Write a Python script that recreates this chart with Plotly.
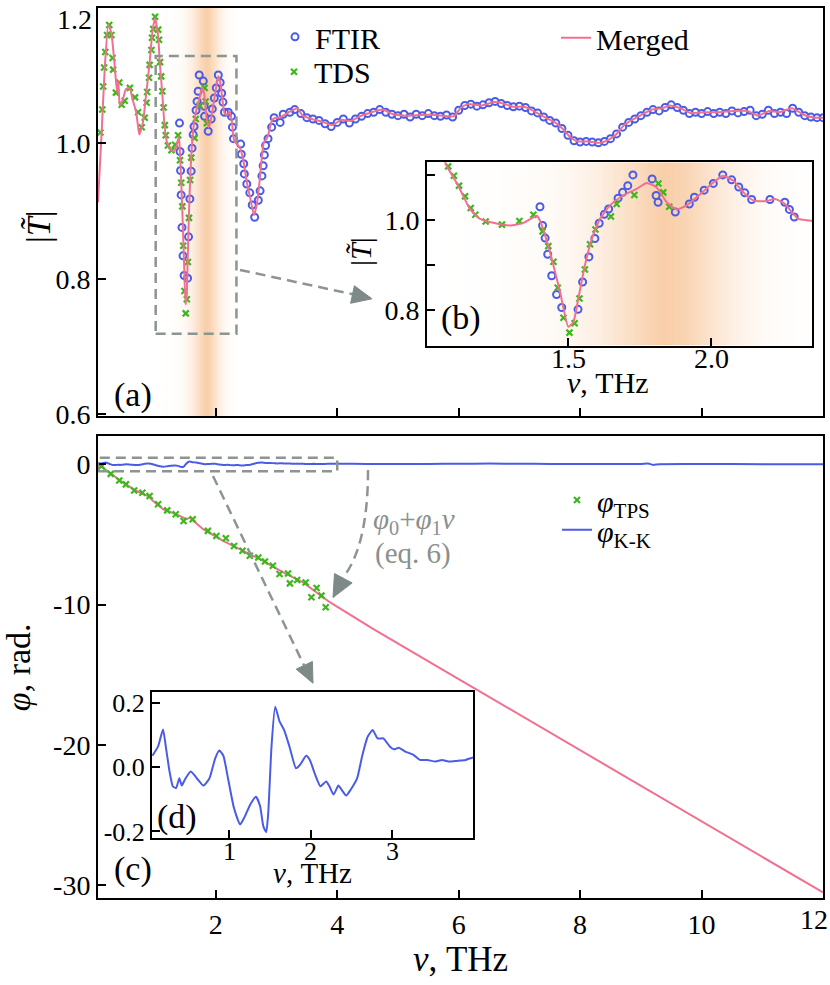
import plotly.graph_objects as go

W, H = 830, 985          # reference picture size (all positions below are given in it)
H_FIG = 998              # drawn height (the capture squeezes the page slightly in height)
FONT = "Liberation Serif"

# ---------------- panel (a): amplitude |T| ----------------
merged_nu = [0.06, 0.09, 0.12, 0.17, 0.23, 0.28, 0.34, 0.375, 0.395, 0.42, 0.47, 0.52, 0.58, 0.63, 0.69,
             0.74, 0.80, 0.85, 0.91, 0.96, 1.00, 1.05, 1.076, 1.116, 1.157, 1.192, 1.239, 1.297, 1.344,
             1.391, 1.402, 1.42, 1.443, 1.472, 1.501, 1.519, 1.536, 1.559, 1.583, 1.612, 1.647, 1.693,
             1.740, 1.775, 1.810, 1.845, 1.880, 1.915, 1.962, 2.008, 2.041, 2.078, 2.113, 2.148, 2.189,
             2.224, 2.259, 2.282, 2.305, 2.346, 2.40, 2.46, 2.51, 2.57, 2.63, 2.69, 2.75, 2.79, 2.85,
             2.93, 2.99, 3.05, 3.20, 3.345, 3.43, 3.58, 3.755, 3.92, 4.07, 4.22, 4.37, 4.57, 4.745,
             4.92, 5.155, 5.39, 5.62, 5.915, 6.03, 6.15, 6.38, 6.585, 6.73, 6.905, 7.08, 7.255, 7.43,
             7.605, 7.72, 7.84, 7.96, 8.13, 8.335, 8.48, 8.60, 8.715, 8.86, 9.01, 9.18, 9.36, 9.47,
             9.65, 9.82, 10.06, 10.29, 10.525, 10.76, 10.93, 11.11, 11.28, 11.49, 11.69, 11.87, 12.0]
merged_T = [0.913, 0.965, 1.016, 1.109, 1.175, 1.163, 1.109, 1.075, 1.092, 1.056, 1.065, 1.080, 1.082, 1.065, 1.046,
            1.013, 1.031, 1.070, 1.119, 1.168, 1.185, 1.159, 1.121, 1.077, 1.025, 1.003, 0.994, 0.988, 0.994,
            1.010, 0.999, 0.966, 0.914, 0.840, 0.762, 0.773, 0.825, 0.899, 0.958, 1.003, 1.033, 1.055,
            1.070, 1.083, 1.073, 1.040, 1.024, 1.033, 1.058, 1.084, 1.099, 1.088, 1.062, 1.044, 1.042,
            1.047, 1.036, 1.018, 1.003, 0.999, 0.993, 0.972, 0.943, 0.918, 0.894, 0.918, 0.972, 1.001, 1.009,
            1.035, 1.038, 1.038, 1.046, 1.052, 1.041, 1.036, 1.032, 1.027, 1.035, 1.033, 1.040, 1.046, 1.050,
            1.043, 1.041, 1.042, 1.042, 1.040, 1.052, 1.058, 1.056, 1.061, 1.059, 1.054, 1.054, 1.047, 1.038,
            1.030, 1.021, 1.009, 1.003, 1.003, 1.001, 1.006, 1.014, 1.026, 1.035, 1.042, 1.050, 1.052, 1.056,
            1.052, 1.045, 1.046, 1.046, 1.048, 1.048, 1.041, 1.048, 1.046, 1.052, 1.042, 1.038, 1.038]

ftir_nu = [1.402, 1.411, 1.42, 1.429, 1.443, 1.46, 1.478, 1.535, 1.551, 1.573, 1.594, 1.609, 1.627, 1.642,
           1.675, 1.691, 1.709, 1.727, 1.794, 1.808, 1.815, 1.875, 1.924, 1.942, 1.976, 2.008, 2.041, 2.072,
           2.097, 2.118, 2.142, 2.206, 2.258, 2.274, 2.291, 2.41, 2.42, 2.46, 2.47, 2.51, 2.56, 2.60, 2.64,
           2.70, 2.73, 2.76, 2.78, 2.80, 2.82, 2.86, 2.92, 2.96, 3.06, 3.11, 3.22,
           3.3, 3.4, 3.5, 3.6, 3.7, 3.8, 3.9, 4.0, 4.1, 4.2, 4.3, 4.4, 4.5, 4.6, 4.7, 4.8, 4.9, 5.0,
           5.1, 5.2, 5.3, 5.4, 5.5, 5.6, 5.7, 5.8, 5.9, 6.0, 6.1, 6.2, 6.3, 6.4, 6.5, 6.6, 6.7, 6.8,
           6.9, 7.0, 7.1, 7.2, 7.3, 7.4, 7.5, 7.6, 7.7, 7.8, 7.9, 8.0, 8.1, 8.2, 8.3, 8.4, 8.5, 8.6,
           8.7, 8.8, 8.9, 9.0, 9.1, 9.2, 9.3, 9.4, 9.5, 9.6, 9.7, 9.8, 9.9, 10.0, 10.1, 10.2, 10.3,
           10.4, 10.5, 10.6, 10.7, 10.8, 10.9, 11.0, 11.1, 11.2, 11.3, 11.4, 11.5, 11.6, 11.7, 11.8,
           11.9, 12.0]
ftir_T = [1.030, 0.988, 0.960, 0.924, 0.876, 0.834, 0.805, 0.801, 0.862, 0.918, 0.959, 0.993, 1.013, 1.025,
          1.049, 1.062, 1.077, 1.101, 1.092, 1.055, 1.040, 1.018, 1.036, 1.051, 1.067, 1.082, 1.101, 1.090,
          1.074, 1.061, 1.046, 1.046, 1.040, 1.024, 1.007, 0.999, 0.984, 0.970, 0.955, 0.940, 0.927, 0.909, 0.891,
          0.916, 0.930, 0.952, 0.967, 0.983, 0.997, 1.007, 1.024, 1.038, 1.031, 1.043, 1.046,
          1.050, 1.044, 1.038, 1.036, 1.034, 1.029, 1.025, 1.031, 1.036, 1.030, 1.036, 1.040, 1.044, 1.046, 1.050, 1.046, 1.043, 1.041,
          1.043, 1.039, 1.043, 1.041, 1.044, 1.041, 1.040, 1.042, 1.039, 1.049, 1.056, 1.058, 1.055, 1.057, 1.060, 1.062, 1.059, 1.056,
          1.054, 1.055, 1.053, 1.048, 1.045, 1.039, 1.034, 1.030, 1.022, 1.012, 1.004, 1.002, 1.003, 1.002, 1.001, 1.003, 1.007, 1.014,
          1.024, 1.031, 1.036, 1.041, 1.046, 1.050, 1.048, 1.053, 1.057, 1.053, 1.049, 1.044, 1.046, 1.044, 1.047, 1.044, 1.046,
          1.044, 1.048, 1.045, 1.047, 1.049, 1.041, 1.043, 1.049, 1.044, 1.046, 1.044, 1.052, 1.046, 1.041, 1.039,
          1.038, 1.038]

tds_nu = [0.10, 0.13, 0.145, 0.16, 0.18, 0.21, 0.245, 0.28, 0.30, 0.31, 0.355, 0.41, 0.45, 0.50, 0.585, 0.67,
          0.72, 0.78, 0.83, 0.86, 0.87, 0.90, 0.91, 0.94, 0.95, 0.97, 1.00, 1.05, 1.065, 1.081, 1.101, 1.119,
          1.140, 1.160, 1.176, 1.212, 1.269, 1.330, 1.379, 1.411, 1.431, 1.449, 1.464, 1.484, 1.505, 1.523,
          1.540, 1.559, 1.577, 1.596, 1.650, 1.670, 1.732, 1.816, 1.833, 1.854]
tds_T = [1.016, 1.050, 1.084, 1.112, 1.135, 1.160, 1.175, 1.160, 1.126, 1.109, 1.075, 1.090, 1.057, 1.063, 1.082, 1.068,
         1.046, 1.024, 1.038, 1.060, 1.076, 1.097, 1.116, 1.138, 1.156, 1.169, 1.187, 1.168, 1.153, 1.120, 1.099, 1.077,
         1.053, 1.027, 1.012, 0.997, 0.990, 0.998, 1.012, 0.975, 0.942, 0.907, 0.849, 0.782, 0.749, 0.770,
         0.825, 0.890, 0.946, 0.979, 1.008, 1.036, 1.056, 1.082, 1.062, 1.030]

# highlighted (shaded) frequency band, relative intensity
band_nu = [0.95, 1.10, 1.25, 1.40, 1.50, 1.60, 1.70, 1.78, 1.84, 1.92, 2.00, 2.10, 2.20, 2.30, 2.45, 2.60]
band_level = [0.0, 0.08, 0.16, 0.28, 0.40, 0.58, 0.78, 0.93, 1.0, 0.92, 0.75, 0.50, 0.30, 0.16, 0.06, 0.0]

# ---------------- panel (c): phase ----------------
phase_nu = [0.06, 0.08, 0.255, 0.475, 0.695, 0.886, 0.968, 1.133, 1.353, 1.518, 1.572, 1.791, 2.12,
            2.449, 2.779, 3.108, 3.437, 3.877, 4.59, 6.0, 8.0, 10.0, 12.0]
phase_merged = [0.0, -0.07, -0.61, -1.32, -1.91, -2.27, -2.62, -3.21, -3.57, -3.92, -3.81, -4.63, -5.46,
                -6.17, -6.88, -7.71, -8.42, -9.83, -11.73, -15.30, -20.37, -25.43, -30.50]

tps_nu = [0.12, 0.27, 0.41, 0.52, 0.655, 0.79, 0.91, 1.05, 1.20, 1.34, 1.47, 1.62, 1.87, 2.01, 2.165,
          2.30, 2.44, 2.56, 2.70, 2.81, 2.94, 3.05, 3.19, 3.22, 3.34, 3.48, 3.575, 3.66, 3.74, 3.81]
tps_phi = [-0.14, -0.69, -1.16, -1.44, -1.87, -2.03, -2.27, -2.86, -3.29, -3.57, -4.04, -3.92, -4.75, -5.11, -5.27,
           -5.82, -6.17, -6.52, -6.64, -6.93, -7.23, -7.82, -7.78, -8.49, -8.25, -8.42, -9.48, -8.82, -9.36, -10.19]

kk_nu = [0.06, 0.13, 0.19, 0.23, 0.27, 0.31, 0.35, 0.39, 0.42, 0.46, 0.53, 0.58, 0.62, 0.685, 0.76, 0.83,
         0.88, 0.93, 0.99, 1.06, 1.135, 1.195, 1.26, 1.33, 1.38, 1.42, 1.455, 1.48, 1.52, 1.565, 1.62,
         1.675, 1.74, 1.82, 1.87, 1.945, 1.99, 2.055, 2.12, 2.19, 2.23, 2.28, 2.34, 2.38, 2.435, 2.49,
         2.57, 2.63, 2.70, 2.76, 2.82, 2.89, 2.97, 3.02, 3.08, 3.16, 3.26, 3.34, 3.43, 3.53, 3.61, 3.69,
         3.79, 3.90, 3.98, 4.5, 5.0, 5.5, 6.0, 6.5, 7.0, 7.5, 8.0, 8.5, 9.0, 9.12, 9.2, 9.3, 10.0, 11.0, 12.0]
kk_phi = [0.036, 0.065, 0.118, 0.054, -0.013, -0.059, -0.065, -0.034, -0.057, -0.037, -0.013, -0.026, -0.039,
          -0.057, -0.034, 0.028, 0.052, 0.036, -0.039, -0.127, -0.178, -0.152, -0.116, -0.092, -0.121, -0.184,
          -0.202, -0.142, 0.065, 0.189, 0.142, 0.116, 0.065, -0.003, 0.008, 0.036, 0.023, -0.023, -0.059,
          -0.044, -0.059, -0.085, -0.057, -0.070, -0.088, -0.070, -0.034, 0.034, 0.096, 0.116, 0.090, 0.090,
          0.065, 0.056, 0.061, 0.049, 0.039, 0.023, 0.023, 0.018, 0.023, 0.018, 0.020, 0.023, 0.030,
          0.02, 0.01, 0.02, 0.03, 0.04, 0.03, 0.02, 0.02, 0.01, 0.02, 0.05, -0.05, 0.0, 0.01, 0.0, 0.0]

# ---------------- ticks ----------------
amp_ticks = [0.6, 0.8, 1.0, 1.2]
amp_ticktext = ["0.6", "0.8", "1.0", ""]
nu_ticks = [2, 4, 6, 8, 10, 12]
nu_ticktext = ["2", "4", "6", "8", "10", ""]
phi_ticks = [0, -10, -20, -30]
phi_ticktext = ["0", "-10", "-20", "-30"]
b_xticks = [1.5, 2.0]
b_xticktext = ["1.5", "2.0"]
b_yticks = [0.8, 0.9, 1.0, 1.1]
b_yticktext = ["0.8", "", "1.0", ""]
d_xticks = [1, 2, 3]
d_xticktext = ["1", "2", "3"]
d_yticks = [-0.2, 0.0, 0.2]
d_yticktext = ["-0.2", "0.0", "0.2"]

# ---------------- colours ----------------
C_FTIR = "#4a5ce6"
C_TDS = "#3cb81c"
C_MERGED = "#f2708f"
C_KK = "#4a5ce6"
C_GRAY = "#8c9592"
C_HEAD = "#7d8a87"
C_TEXTGRAY = "#8a908e"


def P(px, py):
    return px / W, 1 - py / H


def dom_x(a, b):
    return [a / W, b / W]


def dom_y(top, bottom):
    return [1 - bottom / H, 1 - top / H]


# axis frames (reference pixels) and ranges
MAIN_X = (98, 823)
MAIN_XR = [0.06, 12.0]
B_X, B_Y = (427, 812), (160, 344)
B_XR, B_YR = [1.007, 2.353], [0.72, 1.129]
D_X, D_Y = (152, 473), (692, 838)
D_XR, D_YR = [0.055, 3.99], [-0.219, 0.234]

fig = go.Figure()

band_scale = [[0, "rgba(255,255,255,0)"], [1, "rgba(249,206,168,1)"]]
fig.add_trace(go.Heatmap(x=band_nu, y=[0.5, 1.3], z=[band_level, band_level], colorscale=band_scale,
                         zmin=0, zmax=1, zsmooth="best", showscale=False, hoverinfo="skip",
                         xaxis="x", yaxis="y"))
fig.add_trace(go.Heatmap(x=band_nu, y=[0.6, 1.2], z=[band_level, band_level], colorscale=band_scale,
                         zmin=0, zmax=1, zsmooth="best", showscale=False, hoverinfo="skip",
                         xaxis="x3", yaxis="y3"))

ftir_marker = dict(symbol="circle-open", size=7, color=C_FTIR, line=dict(width=2, color=C_FTIR))
tds_marker = dict(symbol="x-thin", size=6, color=C_TDS, line=dict(width=2.2, color=C_TDS))

for ax, ay, main in [("x", "y", True), ("x3", "y3", False)]:
    fig.add_trace(go.Scatter(x=ftir_nu, y=ftir_T, mode="markers", marker=ftir_marker, name="FTIR",
                             showlegend=main, legend="legend", xaxis=ax, yaxis=ay))
    fig.add_trace(go.Scatter(x=tds_nu, y=tds_T, mode="markers", marker=tds_marker, name="TDS",
                             showlegend=main, legend="legend2", xaxis=ax, yaxis=ay))
    fig.add_trace(go.Scatter(x=merged_nu, y=merged_T, mode="lines", name="Merged",
                             line=dict(color=C_MERGED, width=2, shape="spline", smoothing=0.5),
                             showlegend=main, legend="legend3", xaxis=ax, yaxis=ay))

fig.add_trace(go.Scatter(x=phase_nu, y=phase_merged, mode="lines", line=dict(color=C_MERGED, width=2),
                         showlegend=False, xaxis="x2", yaxis="y2"))
fig.add_trace(go.Scatter(x=tps_nu, y=tps_phi, mode="markers", marker=tds_marker,
                         name="<i>φ</i><sub>TPS</sub>", legend="legend4", xaxis="x2", yaxis="y2"))
fig.add_trace(go.Scatter(x=kk_nu, y=kk_phi, mode="lines",
                         line=dict(color=C_KK, width=2, shape="spline", smoothing=0.5),
                         name="<i>φ</i><sub>K-K</sub>", legend="legend5", xaxis="x2", yaxis="y2"))
fig.add_trace(go.Scatter(x=kk_nu, y=kk_phi, mode="lines",
                         line=dict(color=C_KK, width=2, shape="spline", smoothing=0.5),
                         showlegend=False, xaxis="x4", yaxis="y4"))

tickfont = dict(family=FONT, size=28, color="black")
base_axis = dict(showline=True, linecolor="black", linewidth=2, mirror=True, ticks="inside",
                 ticklen=8, tickwidth=2, tickcolor="black", showgrid=False, zeroline=False,
                 tickfont=tickfont, tickmode="array")

fig.update_layout(
    xaxis=dict(base_axis, domain=dom_x(*MAIN_X), anchor="y", range=MAIN_XR, tickvals=nu_ticks,
               showticklabels=False),
    yaxis=dict(base_axis, domain=dom_y(5, 415), anchor="x", range=[0.597, 1.2], tickvals=amp_ticks,
               ticktext=amp_ticktext),
    xaxis2=dict(base_axis, domain=dom_x(*MAIN_X), anchor="y2", range=MAIN_XR, tickvals=nu_ticks,
                ticktext=nu_ticktext,
                title=dict(text="<i>ν</i>, THz", font=dict(family=FONT, size=35), standoff=0)),
    yaxis2=dict(base_axis, domain=dom_y(435, 899), anchor="x2", range=[-30.92, 1.99],
                tickvals=phi_ticks, ticktext=phi_ticktext,
                title=dict(text="<i>φ</i>, rad.", font=dict(family=FONT, size=34), standoff=13)),
    xaxis3=dict(base_axis, domain=dom_x(*B_X), anchor="y3", range=B_XR, tickvals=b_xticks,
                showticklabels=False),
    yaxis3=dict(base_axis, domain=dom_y(*B_Y), anchor="x3", range=B_YR,
                tickvals=b_yticks, ticktext=b_yticktext),
    xaxis4=dict(base_axis, domain=dom_x(*D_X), anchor="y4", range=D_XR, tickvals=d_xticks,
                showticklabels=False),
    yaxis4=dict(base_axis, domain=dom_y(*D_Y), anchor="x4", range=D_YR,
                tickvals=d_yticks, ticktext=d_yticktext, tickfont=dict(family=FONT, size=26)),
)

leg_common = dict(bgcolor="rgba(0,0,0,0)", borderwidth=0, xanchor="left", yanchor="middle",
                  font=dict(family=FONT, size=30, color="black"), itemclick=False)
for name, (px, py) in [("legend", (275, 34)), ("legend2", (274, 69)), ("legend3", (556, 35)),
                       ("legend4", (557, 499)), ("legend5", (557, 529))]:
    lx, ly = P(px, py)
    fig.update_layout({name: dict(leg_common, x=lx, y=ly)})

# ---------------- decorations ----------------
shapes = []
dash = "10px,6px"
shapes.append(dict(type="rect", xref="x", yref="y", x0=1.01, x1=2.34, y0=0.719, y1=1.129,
                   line=dict(color=C_GRAY, width=2.5, dash=dash)))
shapes.append(dict(type="rect", xref="x2", yref="y2", x0=0.06, x1=4.0, y0=-0.5, y1=0.45,
                   line=dict(color=C_GRAY, width=2.5, dash=dash)))


def seg(p0, p1):
    a = P(*p0)
    b = P(*p1)
    return dict(type="line", xref="paper", yref="paper", x0=a[0], y0=a[1], x1=b[0], y1=b[1],
                line=dict(color=C_GRAY, width=2.5, dash=dash))


def head(pts):
    q = [P(*p) for p in pts]
    path = "M {:.5f},{:.5f} L {:.5f},{:.5f} L {:.5f},{:.5f} Z".format(*q[0], *q[1], *q[2])
    return dict(type="path", xref="paper", yref="paper", path=path, fillcolor=C_HEAD,
                line=dict(color=C_HEAD, width=1))


shapes.append(seg((240, 268), (353, 292.5)))
shapes.append(head([(372, 297), (350.6, 301.5), (354.4, 283.9)]))
shapes.append(seg((213, 475), (304, 665)))
shapes.append(head([(313, 683), (296.2, 668.9), (312.4, 661.1)]))
s0, c0, e0 = P(368, 469), P(368, 545), P(343, 577)
shapes.append(dict(type="path", xref="paper", yref="paper",
                   path="M {:.5f},{:.5f} Q {:.5f},{:.5f} {:.5f},{:.5f}".format(*s0, *c0, *e0),
                   line=dict(color=C_GRAY, width=2.5, dash=dash)))
shapes.append(head([(333, 597), (352.1, 582.3), (334.5, 572.9)]))
fig.update_layout(shapes=shapes)


def ann(text, px, py, size, color="black", xanchor="center", angle=0):
    x, y = P(px, py)
    return dict(text=text, x=x, y=y, xref="paper", yref="paper", showarrow=False,
                xanchor=xanchor, yanchor="middle", textangle=angle,
                font=dict(family=FONT, size=size, color=color))


def to_px(v, rng, span):
    return span[0] + (v - rng[0]) / (rng[1] - rng[0]) * (span[1] - span[0])


annotations = [
    ann("(a)", 133, 394, 34),
    ann("(b)", 461, 316, 34),
    ann("(c)", 133, 870, 34),
    ann("(d)", 177, 817, 34),
    ann("1.2", 94, 17, 28, xanchor="right"),
    ann("12", 814, 920, 28),
    ann("<i>φ</i><sub>0</sub>+<i>φ</i><sub>1</sub><i>ν</i>", 414, 520, 29, color=C_TEXTGRAY),
    ann("(eq. 6)", 413, 553, 29, color=C_TEXTGRAY),
    ann("|<i>T\u0303</i>|", 38, 225, 34, angle=-90),
    ann("|<i>T\u0303</i>|", 361, 250, 30, angle=-90),
    ann("<i>ν</i>, THz", 608, 381, 30),
    ann("<i>ν</i>, THz", 312, 874, 29),
]
# tick labels of the inset x axes, placed just under their frames as in the reference
for v, t in zip(b_xticks, b_xticktext):
    annotations.append(ann(t, to_px(v, B_XR, B_X), B_Y[1] + 13, 28))
for v, t in zip(d_xticks, d_xticktext):
    annotations.append(ann(t, to_px(v, D_XR, D_X), D_Y[1] + 14, 26))
fig.update_layout(annotations=annotations)

fig.update_layout(width=W, height=H_FIG, margin=dict(l=0, r=0, t=0, b=0), autosize=False,
                  paper_bgcolor="white", plot_bgcolor="white",
                  font=dict(family=FONT, color="black"))

page_fix = ("var s=document.documentElement.style, b=document.body.style;"
            "s.margin='0';s.padding='0';s.overflow='hidden';"
            "b.margin='0';b.padding='0';b.overflow='hidden';")
fig.write_html("out.html", config={"displayModeBar": False, "responsive": False},
               post_script=page_fix)
